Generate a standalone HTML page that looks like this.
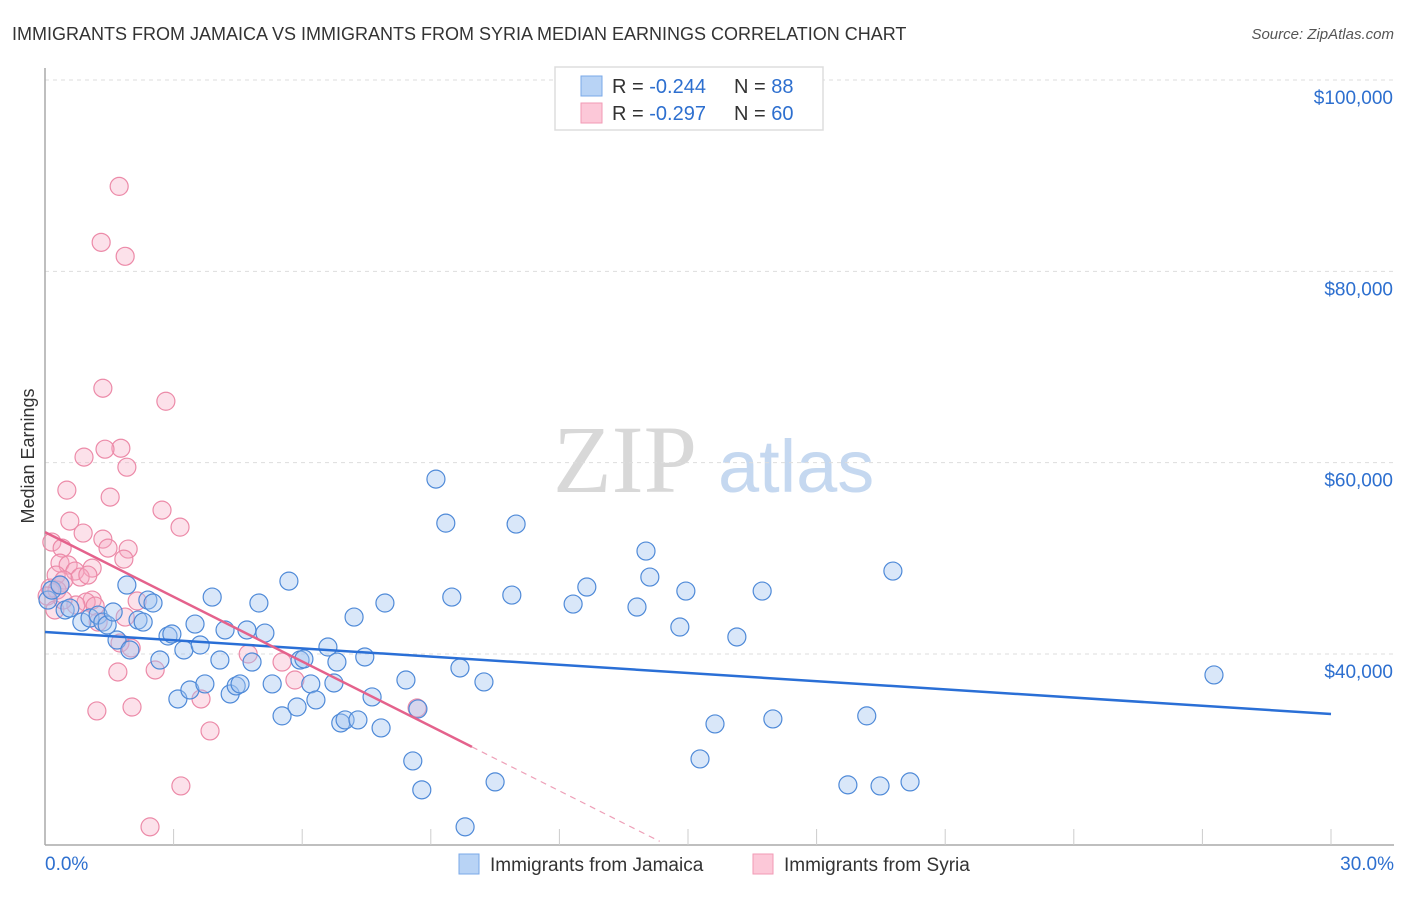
<!DOCTYPE html>
<html><head><meta charset="utf-8"><style>
body{margin:0;background:#fff;font-family:"Liberation Sans",sans-serif;}
svg text{font-family:"Liberation Sans",sans-serif;}
</style></head><body>
<svg id="chart" width="1406" height="892" xmlns="http://www.w3.org/2000/svg">
<text x="12" y="40" font-size="18" fill="#333">IMMIGRANTS FROM JAMAICA VS IMMIGRANTS FROM SYRIA MEDIAN EARNINGS CORRELATION CHART</text>
<text x="1394" y="39" font-size="15" fill="#555" text-anchor="end" font-style="italic">Source: ZipAtlas.com</text>
<text transform="translate(34,456) rotate(-90)" font-size="18" fill="#333" text-anchor="middle">Median Earnings</text>
<g>
<text x="553" y="492" font-size="96" fill="#d8d8d8" font-family="Liberation Serif" style="font-family:'Liberation Serif',serif">ZIP</text>
<text x="718" y="492" font-size="74" fill="#c5d8f0">atlas</text>
</g>
<g id="grid"></g>
<g id="axes"></g>
<g id="marks"></g>
<g>
<rect x="555" y="67" width="268" height="63" fill="#fff" stroke="#ddd" stroke-width="1.5"/>
<rect x="581" y="76" width="21" height="20" fill="#b8d3f5" stroke="#7aa8e8"/>
<rect x="581" y="103" width="21" height="20" fill="#fcc8d8" stroke="#f29ab5"/>
<text x="612" y="93" font-size="20" fill="#333">R = <tspan fill="#2d6fcf">-0.244</tspan></text>
<text x="734" y="93" font-size="20" fill="#333">N = <tspan fill="#2d6fcf">88</tspan></text>
<text x="612" y="120" font-size="20" fill="#333">R = <tspan fill="#2d6fcf">-0.297</tspan></text>
<text x="734" y="120" font-size="20" fill="#333">N = <tspan fill="#2d6fcf">60</tspan></text>
</g>
<g>
<rect x="459" y="854" width="20" height="20" fill="#b8d3f5" stroke="#7aa8e8"/>
<text x="490" y="871" font-size="19" fill="#333">Immigrants from Jamaica</text>
<rect x="753" y="854" width="20" height="20" fill="#fcc8d8" stroke="#f29ab5"/>
<text x="784" y="871" font-size="19" fill="#333">Immigrants from Syria</text>
</g>
</svg>
<script>
const yTicks=[40000,60000,80000,100000];
const yTickLabels=["$40,000","$60,000","$80,000","$100,000"];
const xTickLabels=["0.0%","30.0%"];
const jamX=[0.07,0.16,0.35,0.47,0.58,0.86,1.05,1.24,1.35,1.45,1.59,1.68,1.91,1.98,2.17,2.29,2.40,2.52,2.68,2.87,2.96,3.10,3.24,3.38,3.50,3.62,3.73,3.90,4.08,4.20,4.32,4.46,4.55,4.71,4.83,4.99,5.13,5.30,5.53,5.69,5.88,5.95,6.04,6.20,6.32,6.60,6.74,6.81,6.90,7.00,7.21,7.30,7.46,7.63,7.84,7.93,8.42,8.58,8.70,8.79,9.12,9.35,9.49,9.68,9.80,10.24,10.50,10.89,10.99,12.32,12.64,13.81,14.02,14.11,14.81,14.95,15.28,15.63,16.14,16.73,16.98,18.73,19.17,19.48,19.78,20.18,27.27];
const jamY=[45640,46680,47210,44600,44800,43340,43760,44070,43340,43030,44390,41460,47210,40420,43550,43340,45640,45330,39370,41880,42090,35300,40420,36240,43130,40940,36870,45950,39370,42510,35820,36660,36870,42510,39160,45330,42190,36870,33530,47620,34460,39370,39480,36870,35200,40730,36970,39160,32790,33110,43860,33110,39690,35510,32270,45330,37280,28820,34260,25800,58280,53680,45950,38540,21930,37080,26630,46160,53580,45220,47000,44910,50760,48040,42820,46580,29030,32690,41780,46580,33210,26320,33530,26210,48670,26630,37810];
const syrX=[1.73,1.31,1.87,1.35,2.82,1.77,1.40,0.91,1.91,0.51,1.52,2.73,0.58,3.15,0.89,1.35,1.94,0.16,0.40,1.47,1.84,0.35,0.54,0.70,1.10,0.26,0.44,0.82,1.00,0.12,0.28,0.05,1.10,0.96,1.17,1.24,2.15,1.87,1.75,2.01,1.70,2.57,3.64,3.85,2.03,1.21,3.17,2.45,4.74,5.53,5.83,8.68,0.23,0.72,0.42,0.35];
const syrY=[88880,83030,81570,67780,66420,61510,61410,60580,59530,57130,56400,55040,53890,53260,52640,52010,50970,51700,51070,51070,49920,49500,49300,48670,48980,48250,47730,48040,48250,46890,46680,46060,45640,45430,45010,43340,45540,43860,41150,40630,38120,38330,35300,31960,34460,34050,26210,21930,40000,39160,37280,34360,44600,45120,45640,47210];
const jamLine=[42300,33730];
const syrLine=[52740,30290];
const syrLineEnd=9.96, syrDashEnd=14.34;

const X0=45,X1=1331,PB=845;
const xs=v=>X0+(X1-X0)*v/30;
const ys=v=>654-(v-40000)*(654-80)/60000;
const NS="http://www.w3.org/2000/svg";
function mk(tag,attrs,parent){const e=document.createElementNS(NS,tag);for(const k in attrs)e.setAttribute(k,attrs[k]);parent.appendChild(e);return e;}
const grid=document.getElementById('grid'),axes=document.getElementById('axes'),marks=document.getElementById('marks');
yTicks.forEach((t,i)=>{
 const l=mk('line',{x1:X0,x2:1394,y1:ys(t),y2:ys(t),stroke:'#ddd','stroke-dasharray':'4,4'},grid);
 
 
 const tx=mk('text',{x:1393,y:ys(t)+24,'font-size':19,fill:'#2d6fcf','text-anchor':'end'},axes);
 tx.textContent=yTickLabels[i];
 
 
});
const ax=mk('line',{x1:X0,x2:X0,y1:68,y2:PB,stroke:'#aaa','stroke-width':1.5},axes);


const bx=mk('line',{x1:X0,x2:1394,y1:PB,y2:PB,stroke:'#aaa','stroke-width':1.5},axes);


for(let k=1;k<=10;k++){
 const t=mk('line',{x1:xs(k*3),x2:xs(k*3),y1:829,y2:PB,stroke:'#ccc'},axes);
 
 
}
[[0,'start',45],[30,'end',1394]].forEach((p,i)=>{
 const t=mk('text',{x:p[2],y:870,'font-size':19,fill:'#2d6fcf','text-anchor':p[1]},axes);
 t.textContent=xTickLabels[i];
 
 
});
syrX.forEach((x,i)=>{
 const c=mk('circle',{cx:xs(x),cy:ys(syrY[i]),r:9,fill:'rgba(246,170,196,0.35)',stroke:'#ec8aa8','stroke-width':1.2},marks);
 
 
});
jamX.forEach((x,i)=>{
 const c=mk('circle',{cx:xs(x),cy:ys(jamY[i]),r:9,fill:'rgba(160,196,240,0.4)',stroke:'#4f8ad8','stroke-width':1.2},marks);
 
 
});
const jl=mk('line',{x1:xs(0),y1:ys(jamLine[0]),x2:xs(30),y2:ys(jamLine[1]),stroke:'#2a6fd6','stroke-width':2.5},marks);


const slope=(syrLine[1]-syrLine[0])/syrLineEnd;
const sl=mk('line',{x1:xs(0),y1:ys(syrLine[0]),x2:xs(syrLineEnd),y2:ys(syrLine[1]),stroke:'#e4628c','stroke-width':2.5},marks);


const sd=mk('line',{x1:xs(syrLineEnd),y1:ys(syrLine[1]),x2:xs(syrDashEnd),y2:ys(syrLine[0]+slope*syrDashEnd),stroke:'#eea0b8','stroke-width':1.2,'stroke-dasharray':'6,5'},marks);


</script>
</body></html>
